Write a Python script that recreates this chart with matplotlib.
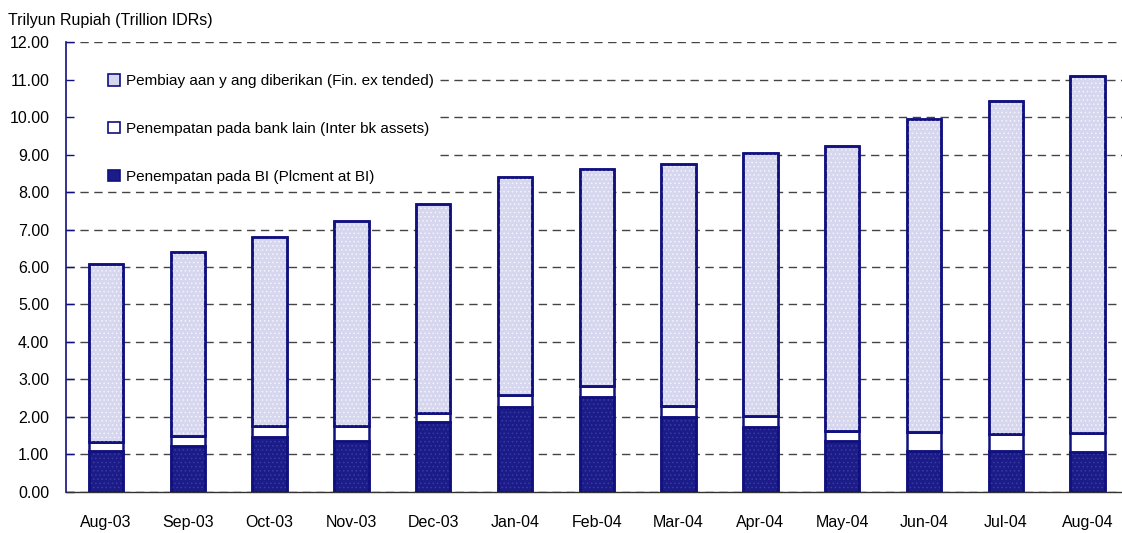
import numpy as np
import matplotlib.pyplot as plt
from matplotlib.patches import Patch

plt.rcParams['font.family'] = ['Liberation Sans', 'DejaVu Sans']

months = ['Aug-03', 'Sep-03', 'Oct-03', 'Nov-03', 'Dec-03', 'Jan-04', 'Feb-04',
          'Mar-04', 'Apr-04', 'May-04', 'Jun-04', 'Jul-04', 'Aug-04']

# Trillion IDR
bi_placement = [1.10, 1.23, 1.45, 1.36, 1.85, 2.25, 2.52, 1.99, 1.72, 1.36, 1.10, 1.10, 1.07]
interbank = [0.24, 0.26, 0.31, 0.40, 0.26, 0.32, 0.31, 0.30, 0.30, 0.26, 0.49, 0.43, 0.49]
financing = [4.74, 4.90, 5.03, 5.48, 5.57, 5.84, 5.78, 6.45, 7.03, 7.60, 8.35, 8.89, 9.54]

labels = ['Penempatan pada BI (Plcment at BI)',
          'Penempatan pada bank lain (Inter bk assets)',
          'Pembiay aan y ang diberikan (Fin. ex tended)']

navy = '#10107f'
x = np.arange(len(months))
w = 0.42
bi = np.array(bi_placement)
ib = np.array(interbank)
fin = np.array(financing)

fig = plt.figure(figsize=(11.22, 5.33), dpi=100)
ax = fig.add_axes([0.0588, 0.0775, 0.9412, 0.8431])

plt.rcParams['hatch.linewidth'] = 0.6
# base fills
ax.bar(x, bi, w, color='#1c1c88', edgecolor=navy, linewidth=1.8, zorder=3)
ax.bar(x, ib, w, bottom=bi, color='white', edgecolor=navy, linewidth=1.8, zorder=3)
ax.bar(x, fin, w, bottom=bi + ib, color='#d6d6ef', edgecolor=navy, linewidth=1.8, zorder=3)
# dotted texture
ax.bar(x, bi, w, color='none', edgecolor='#3a3aa4', hatch='....', linewidth=0, zorder=3.5)
ax.bar(x, fin, w, bottom=bi + ib, color='none', edgecolor='#f4f4fc', hatch='....',
       linewidth=0, zorder=3.5)
# redraw outlines on top
ax.bar(x, bi, w, color='none', edgecolor=navy, linewidth=1.8, zorder=4)
ax.bar(x, fin, w, bottom=bi + ib, color='none', edgecolor=navy, linewidth=1.8, zorder=4)

x0, x1 = -0.49, 12.42
ax.set_xlim(x0, x1)
ax.set_ylim(0, 12)
yt = np.arange(0, 13)
ax.set_yticks(yt)
ax.set_yticklabels(['%.2f' % v for v in yt])
ax.set_xticks(x)
ax.set_xticklabels(months)

# dashed grid, left out where the legend sits (rows 9-11)
for v in yt:
    start = 4.08 if 9 <= v <= 11 else x0
    ax.hlines(v, start, x1, colors='#444444', linestyles=(0, (6, 4)), linewidth=1.0,
              zorder=1)

for s in ['top', 'right']:
    ax.spines[s].set_visible(False)
ax.spines['left'].set_color(navy)
ax.spines['left'].set_linewidth(1.2)
ax.spines['left'].set_zorder(5)
ax.spines['bottom'].set_color('#333333')
ax.spines['bottom'].set_linewidth(1.0)

ax.tick_params(axis='y', direction='in', length=6, color=navy, width=1.0,
               labelsize=11.5, pad=12)
ax.tick_params(axis='x', length=0, labelsize=11.5, pad=17)

fig.text(0.007, 0.962, 'Trilyun Rupiah (Trillion IDRs)', fontsize=11.5, va='center', ha='left')

handles = [Patch(facecolor='#d6d6ef', edgecolor=navy, linewidth=1.2),
           Patch(facecolor='white', edgecolor=navy, linewidth=1.2),
           Patch(facecolor='#1c1c88', edgecolor=navy, linewidth=1.2)]
leg = ax.legend(handles, labels[::-1], loc='upper left', bbox_to_anchor=(0.034, 0.943),
                frameon=False, fontsize=11, handlelength=0.8, handleheight=0.8,
                handletextpad=0.4, labelspacing=2.2, borderaxespad=0)

fig.savefig('out.png', dpi=100)
